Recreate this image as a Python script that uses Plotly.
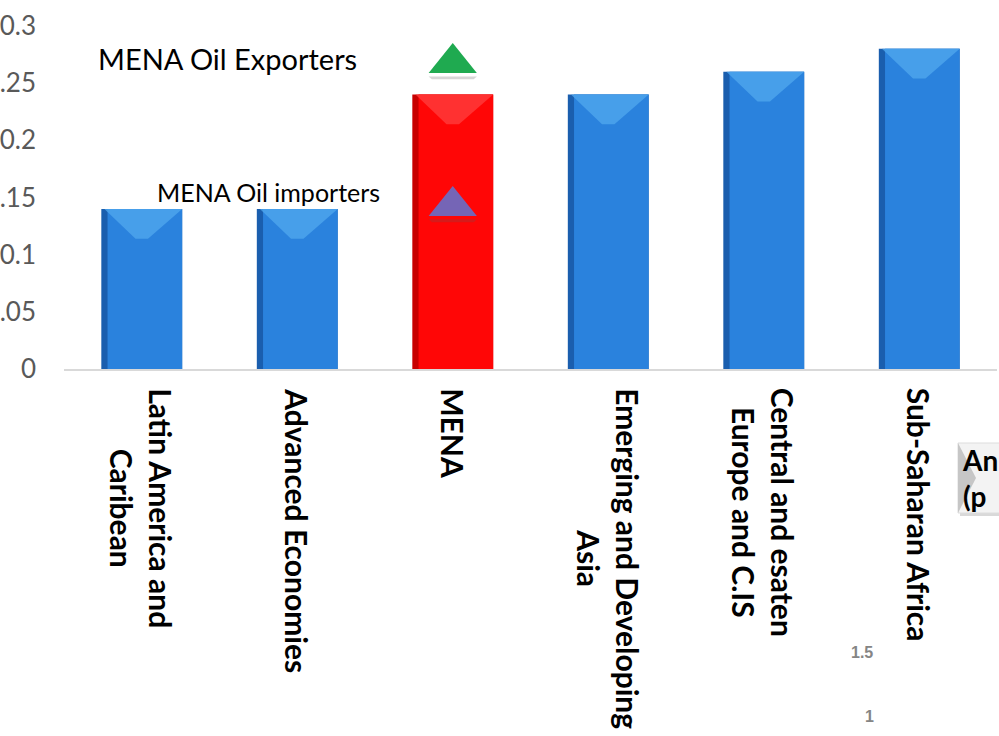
import plotly.graph_objects as go

# Regions and their values
regions = [
    "Latin America and<br>Caribean",
    "Advanced Economies",
    "MENA",
    "Emerging and Developing<br>Asia",
    "Central and esaten<br>Europe and C.IS",
    "Sub-Saharan Africa",
]
values = [0.14, 0.14, 0.24, 0.24, 0.26, 0.28]

# MENA sub-group markers
group_names = ["MENA Oil Exporters", "MENA Oil importers"]
group_values = [0.272, 0.147]

y_ticks = [0, 0.05, 0.1, 0.15, 0.2, 0.25, 0.3]
y_tick_text = ["0", "0.05", "0.1", "0.15", "0.2", "0.25", "0.3"]

highlight = "MENA"
idx = list(range(len(regions)))
is_hi = [r == highlight for r in regions]

edge_col = ["#C80000" if h else "#1A5EAE" for h in is_hi]
face_col = ["#FF0606" if h else "#2A82DD" for h in is_hi]
bevel_col = ["#FF3C3C" if h else "#4FA6EE" for h in is_hi]

BAR_W = 0.52
fig = go.Figure()

# dark edge bar
fig.add_trace(go.Bar(x=idx, y=values, width=BAR_W, marker=dict(color=edge_col, line=dict(width=0)),
                     hoverinfo="skip", showlegend=False))
# main face, leaving a darker strip on the left
fig.add_trace(go.Bar(x=idx, y=values, width=BAR_W - 0.04, offset=-BAR_W / 2 + 0.04,
                     marker=dict(color=face_col, line=dict(width=0)), showlegend=False))

shapes = []
# top bevel highlight on each bar
bev = 0.026
for i, v, c in zip(idx, values, bevel_col):
    x0, x1 = i - BAR_W / 2 + 0.02, i + BAR_W / 2
    shapes.append(dict(type="path", xref="x", yref="y",
                       path=f"M{x0},{v} L{x1},{v} L{i + 0.04},{v - bev} L{i - 0.04},{v - bev} Z",
                       fillcolor=c, line=dict(width=0), opacity=0.8, layer="above"))

# triangle markers for the two MENA sub-groups
mena_i = regions.index(highlight)
tri_cols = ["#1FAA50", "#7565B6"]
tw, th = 0.155, 0.0131
for v, c in zip(group_values, tri_cols):
    shapes.append(dict(type="path", xref="x", yref="y",
                       path=f"M{mena_i - tw},{v - th - 0.003} L{mena_i + tw},{v - th - 0.003} "
                            f"L{mena_i + tw - 0.02},{v - th - 0.0055} L{mena_i - tw + 0.02},{v - th - 0.0055} Z",
                       fillcolor="rgba(90,90,90,0.25)", line=dict(width=0)))
    shapes.append(dict(type="path", xref="x", yref="y",
                       path=f"M{mena_i - tw},{v - th} L{mena_i + tw},{v - th} L{mena_i},{v + th} Z",
                       fillcolor=c, line=dict(width=0)))

# boxed label at the right edge
def px_x(p):
    return (p - 64) / 933


def px_y(p):
    return (369 - p) / 343


shapes.append(dict(type="rect", xref="paper", yref="paper", x0=px_x(960), x1=px_x(1010),
                   y0=px_y(516), y1=px_y(446), fillcolor="#d9d9d9", line=dict(width=0)))
shapes.append(dict(type="rect", xref="paper", yref="paper", x0=px_x(958), x1=px_x(1010),
                   y0=px_y(513), y1=px_y(443), fillcolor="#f3f3f3", line=dict(color="#dddddd", width=1)))
shapes.append(dict(type="path", xref="paper", yref="paper",
                   path=f"M{px_x(958)},{px_y(443)} L{px_x(976)},{px_y(478)} L{px_x(958)},{px_y(513)} Z",
                   fillcolor="#c6c6c6", line=dict(width=0)))

annotations = []
for i, r in zip(idx, regions):
    annotations.append(dict(x=i, y=0, xref="x", yref="y", text=f"<b>{r}</b>", textangle=90,
                            showarrow=False, xanchor="center", yanchor="top", yshift=-17,
                            align="center",
                            font=dict(family="Lato", size=30, color="#000000")))

annotations.append(dict(x=px_x(96), y=px_y(58), xref="paper", yref="paper", text=group_names[0],
                        showarrow=False, xanchor="left", yanchor="middle",
                        font=dict(family="Lato", size=29, color="#000000")))
annotations.append(dict(x=px_x(155), y=px_y(192), xref="paper", yref="paper", text=group_names[1],
                        showarrow=False, xanchor="left", yanchor="middle",
                        font=dict(family="Lato", size=25, color="#000000")))
annotations.append(dict(x=px_x(960), y=px_y(478), xref="paper", yref="paper", text="<b>An<br>(p</b>",
                        showarrow=False, xanchor="left", yanchor="middle", align="left",
                        font=dict(family="Lato", size=28, color="#000000")))
annotations.append(dict(x=px_x(862), y=px_y(652), xref="paper", yref="paper", text="<b>1.5</b>",
                        showarrow=False, xanchor="center", yanchor="middle",
                        font=dict(family="Liberation Sans", size=16, color="#858585")))
annotations.append(dict(x=px_x(869), y=px_y(716), xref="paper", yref="paper", text="<b>1</b>",
                        showarrow=False, xanchor="center", yanchor="middle",
                        font=dict(family="Liberation Sans", size=16, color="#858585")))

fig.update_layout(
    width=999, height=736,
    margin=dict(l=64, r=2, t=26, b=367),
    paper_bgcolor="white", plot_bgcolor="white",
    barmode="overlay",
    showlegend=False,
    shapes=shapes,
    annotations=annotations,
    xaxis=dict(range=[-0.5, len(regions) - 0.5], showticklabels=False, showgrid=False,
               zeroline=False, showline=True, linecolor="#d9d9d9", linewidth=2, ticks="",
               automargin=False),
    yaxis=dict(range=[0, 0.3], tickvals=y_ticks, ticktext=y_tick_text, showgrid=False,
               zeroline=False, showline=False, ticks="", ticklabelstandoff=27, automargin=False,
               tickfont=dict(family="Lato", size=26, color="#595959")),
)

fig.write_html("out.html")
